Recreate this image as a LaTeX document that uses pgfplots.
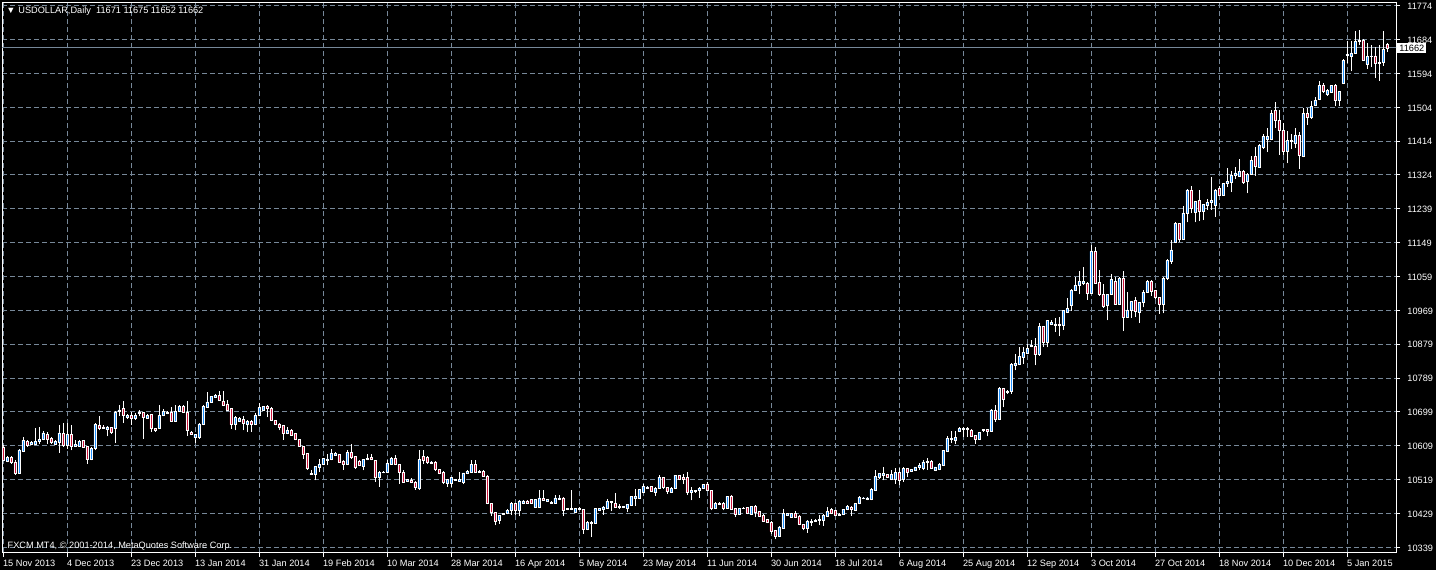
\documentclass[border=0pt]{standalone}
\usepackage{fontspec}
\setmainfont{Liberation Sans}
\usepackage{pgfplots}
\usepackage{pgfplotstable}
\pgfplotsset{compat=1.18}

\definecolor{gridc}{RGB}{119,136,153}
\definecolor{bull}{RGB}{30,144,255}
\definecolor{bear}{RGB}{205,20,60}

% USDOLLAR daily bars: index, open, high, low, close
\pgfplotstableread{
i o h l c
0 10605 10611 10567 10569
1 10566 10580 10564 10576
2 10576 10580 10560 10563
3 10565 10569 10531 10536
4 10536 10600 10534 10597
5 10594 10631 10591 10622
6 10620 10624 10606 10609
7 10613 10620 10609 10617
8 10612 10655 10609 10620
9 10620 10659 10613 10624
10 10625 10646 10622 10642
11 10638 10644 10613 10625
12 10627 10631 10613 10617
13 10613 10624 10612 10620
14 10618 10662 10590 10642
15 10640 10668 10605 10609
16 10609 10668 10600 10638
17 10638 10662 10596 10607
18 10607 10622 10605 10612
19 10607 10624 10605 10620
20 10622 10624 10603 10605
21 10606 10608 10560 10571
22 10571 10605 10569 10600
23 10600 10668 10596 10665
24 10662 10686 10649 10653
25 10658 10662 10653 10655
26 10651 10661 10633 10658
27 10656 10659 10640 10644
28 10653 10700 10615 10697
29 10700 10715 10688 10703
30 10706 10726 10668 10688
31 10682 10691 10680 10688
32 10688 10697 10664 10680
33 10680 10695 10677 10688
34 10693 10702 10686 10697
35 10696 10698 10627 10682
36 10681 10691 10679 10688
37 10691 10693 10644 10653
38 10653 10656 10644 10649
39 10655 10715 10653 10688
40 10688 10706 10686 10699
41 10693 10699 10691 10697
42 10696 10712 10672 10673
43 10673 10715 10672 10700
44 10700 10715 10698 10712
45 10712 10715 10696 10697
46 10697 10726 10635 10649
47 10644 10647 10636 10638
48 10629 10640 10615 10638
49 10629 10668 10627 10666
50 10664 10715 10662 10712
51 10710 10750 10709 10724
52 10724 10741 10722 10739
53 10737 10744 10735 10741
54 10741 10753 10726 10728
55 10726 10752 10713 10715
56 10719 10728 10702 10703
57 10706 10708 10653 10664
58 10664 10686 10649 10682
59 10673 10684 10672 10680
60 10677 10686 10649 10668
61 10666 10675 10644 10673
62 10673 10675 10644 10664
63 10664 10695 10662 10688
64 10688 10721 10687 10709
65 10703 10714 10702 10712
66 10712 10717 10684 10706
67 10706 10710 10673 10675
68 10675 10677 10662 10664
69 10666 10668 10649 10657
70 10662 10664 10624 10640
71 10640 10657 10638 10650
72 10650 10652 10634 10636
73 10640 10642 10622 10624
74 10624 10626 10605 10606
75 10606 10608 10574 10584
76 10587 10589 10545 10547
77 10531 10543 10530 10534
78 10531 10555 10516 10553
79 10552 10574 10538 10559
80 10559 10576 10557 10574
81 10570 10587 10556 10573
82 10571 10600 10569 10589
83 10583 10591 10581 10587
84 10585 10587 10563 10565
85 10568 10569 10545 10559
86 10559 10598 10557 10590
87 10590 10612 10574 10576
88 10580 10582 10547 10550
89 10568 10569 10554 10556
90 10553 10573 10543 10571
91 10571 10587 10569 10575
92 10578 10585 10569 10571
93 10569 10571 10512 10523
94 10523 10540 10500 10538
95 10537 10540 10535 10538
96 10537 10569 10535 10562
97 10560 10578 10559 10574
98 10574 10584 10557 10559
99 10559 10560 10508 10537
100 10537 10543 10510 10512
101 10515 10520 10513 10518
102 10516 10523 10509 10511
103 10512 10514 10492 10497
104 10494 10598 10492 10571
105 10580 10598 10560 10569
106 10578 10580 10561 10563
107 10562 10567 10559 10565
108 10565 10567 10541 10545
109 10545 10546 10532 10534
110 10538 10540 10506 10512
111 10509 10520 10500 10518
112 10509 10524 10499 10523
113 10518 10520 10515 10516
114 10515 10538 10513 10518
115 10512 10537 10506 10536
116 10534 10543 10532 10541
117 10538 10569 10537 10559
118 10558 10569 10537 10538
119 10538 10543 10537 10541
120 10541 10543 10526 10528
121 10528 10530 10453 10455
122 10455 10456 10421 10431
123 10431 10433 10397 10409
124 10410 10425 10402 10424
125 10425 10430 10424 10428
126 10428 10441 10426 10437
127 10437 10459 10424 10455
128 10455 10456 10424 10437
129 10437 10463 10421 10462
130 10455 10463 10453 10462
131 10462 10463 10455 10456
132 10465 10467 10455 10456
133 10446 10467 10444 10465
134 10446 10490 10444 10470
135 10468 10490 10462 10463
136 10462 10467 10460 10465
137 10459 10461 10455 10456
138 10456 10477 10455 10470
139 10465 10477 10463 10470
140 10470 10472 10421 10437
141 10439 10442 10437 10441
142 10439 10492 10437 10441
143 10431 10443 10429 10441
144 10440 10445 10438 10443
145 10440 10441 10375 10387
146 10387 10408 10384 10406
147 10403 10408 10366 10406
148 10403 10443 10401 10441
149 10438 10443 10437 10441
150 10440 10448 10425 10446
151 10441 10468 10440 10461
152 10459 10461 10434 10461
153 10455 10484 10444 10446
154 10448 10455 10440 10445
155 10444 10449 10442 10447
156 10443 10455 10433 10453
157 10450 10475 10448 10473
158 10468 10494 10448 10473
159 10468 10494 10466 10492
160 10485 10508 10484 10501
161 10496 10501 10494 10499
162 10500 10502 10486 10487
163 10484 10498 10475 10496
164 10494 10530 10493 10525
165 10524 10526 10493 10499
166 10498 10500 10481 10487
167 10485 10498 10484 10496
168 10496 10531 10494 10530
169 10530 10531 10517 10519
170 10524 10534 10508 10519
171 10524 10538 10478 10484
172 10485 10499 10463 10489
173 10487 10492 10484 10490
174 10489 10498 10470 10496
175 10494 10508 10493 10505
176 10507 10512 10488 10490
177 10490 10492 10437 10443
178 10443 10458 10441 10456
179 10456 10458 10452 10453
180 10456 10458 10437 10443
181 10443 10476 10441 10474
182 10475 10477 10438 10440
183 10441 10443 10419 10425
184 10425 10443 10424 10441
185 10441 10445 10440 10443
186 10445 10447 10426 10428
187 10425 10449 10424 10447
188 10448 10450 10419 10431
189 10433 10434 10420 10422
190 10424 10426 10406 10408
191 10412 10414 10403 10404
192 10406 10408 10373 10381
193 10384 10386 10360 10368
194 10368 10395 10366 10393
195 10390 10440 10388 10428
196 10424 10430 10422 10428
197 10419 10430 10418 10428
198 10429 10434 10418 10419
199 10422 10424 10397 10399
200 10400 10402 10384 10390
201 10390 10411 10378 10409
202 10404 10415 10396 10408
203 10409 10413 10407 10411
204 10410 10424 10397 10412
205 10411 10426 10396 10424
206 10422 10446 10420 10433
207 10439 10443 10426 10428
208 10437 10439 10422 10424
209 10424 10429 10422 10427
210 10425 10441 10424 10440
211 10439 10452 10437 10448
212 10446 10448 10422 10439
213 10437 10456 10435 10455
214 10455 10475 10453 10472
215 10468 10471 10466 10470
216 10465 10472 10463 10470
217 10465 10496 10463 10492
218 10490 10543 10488 10527
219 10523 10536 10520 10534
220 10529 10553 10516 10534
221 10531 10533 10523 10525
222 10518 10543 10516 10531
223 10518 10550 10508 10537
224 10537 10550 10503 10516
225 10518 10552 10512 10547
226 10547 10549 10525 10538
227 10541 10547 10539 10545
228 10543 10553 10541 10552
229 10552 10562 10545 10555
230 10549 10571 10543 10565
231 10564 10576 10545 10567
232 10567 10569 10546 10549
233 10543 10553 10541 10552
234 10545 10562 10543 10558
235 10556 10598 10554 10596
236 10594 10633 10592 10627
237 10624 10647 10615 10628
238 10622 10647 10612 10629
239 10647 10658 10645 10653
240 10651 10658 10631 10654
241 10652 10658 10631 10655
242 10650 10652 10631 10633
243 10635 10636 10614 10625
244 10625 10644 10623 10643
245 10649 10653 10644 10651
246 10651 10652 10633 10647
247 10647 10705 10645 10703
248 10702 10715 10671 10678
249 10678 10765 10676 10759
250 10759 10761 10710 10730
251 10750 10756 10746 10753
252 10753 10827 10746 10823
253 10822 10852 10808 10826
254 10823 10869 10822 10845
255 10843 10869 10825 10855
256 10852 10878 10850 10865
257 10871 10887 10869 10875
258 10871 10894 10821 10849
259 10849 10933 10847 10924
260 10924 10926 10871 10883
261 10883 10942 10869 10940
262 10931 10940 10927 10935
263 10928 10947 10909 10931
264 10931 10949 10898 10928
265 10928 10968 10915 10966
266 10962 11000 10960 10971
267 10980 11024 10966 11019
268 11019 11055 11018 11033
269 11033 11072 11009 11043
270 11039 11081 11033 11043
271 11039 11041 10995 11011
272 11011 11141 11009 11123
273 11123 11134 11037 11039
274 11040 11074 11006 11008
275 11009 11037 10974 10978
276 10981 11011 10940 11009
277 11009 11064 11007 11048
278 11044 11055 10981 10982
279 10984 11056 10982 11052
280 11052 11072 10912 10949
281 10949 11015 10947 10968
282 10966 10992 10947 10990
283 10993 11002 10949 10964
284 10962 10990 10933 10988
285 10988 11021 10975 11015
286 11015 11048 11013 11043
287 11043 11048 11006 11018
288 11019 11021 10998 11000
289 11000 11002 10958 10984
290 10984 11056 10959 11052
291 11052 11104 11048 11098
292 11096 11152 11090 11127
293 11147 11200 11145 11198
294 11198 11199 11147 11156
295 11156 11244 11154 11225
296 11225 11288 11200 11286
297 11286 11297 11224 11238
298 11227 11257 11200 11255
299 11257 11286 11203 11229
300 11229 11249 11206 11247
301 11244 11262 11233 11253
302 11253 11319 11233 11257
303 11246 11288 11214 11286
304 11289 11297 11269 11271
305 11272 11303 11271 11302
306 11302 11344 11293 11308
307 11306 11337 11280 11324
308 11325 11346 11315 11331
309 11323 11368 11321 11336
310 11336 11338 11302 11306
311 11309 11330 11277 11328
312 11326 11377 11325 11364
313 11374 11399 11324 11349
314 11346 11408 11344 11403
315 11400 11434 11394 11427
316 11421 11450 11386 11427
317 11419 11497 11417 11489
318 11497 11518 11450 11469
319 11471 11497 11379 11443
320 11443 11462 11379 11388
321 11388 11443 11356 11416
322 11414 11434 11394 11416
323 11408 11450 11397 11430
324 11430 11439 11341 11377
325 11374 11503 11372 11489
326 11489 11503 11459 11477
327 11477 11522 11475 11507
328 11509 11531 11507 11524
329 11525 11574 11523 11562
330 11564 11568 11544 11546
331 11538 11553 11536 11549
332 11544 11565 11543 11562
333 11562 11566 11507 11522
334 11522 11548 11507 11546
335 11568 11633 11566 11628
336 11643 11681 11621 11646
337 11640 11681 11600 11649
338 11649 11708 11647 11679
339 11680 11709 11671 11683
340 11683 11685 11627 11630
341 11619 11674 11606 11639
342 11639 11671 11611 11641
343 11641 11664 11582 11621
344 11621 11671 11575 11624
345 11624 11708 11615 11659
346 11671 11675 11652 11662
}\candles

\begin{document}
\begin{tikzpicture}[font=\fontsize{4.6bp}{5.5bp}\selectfont]
\fill[black] (0,0) rectangle (718bp,285bp);
\useasboundingbox (0,0) rectangle (718bp,285bp);
\pgfplotsset{mt4/.style={
    at={(1bp,8.75bp)}, anchor=south west,
    scale only axis, width=697bp, height=274.75bp,
    xmin=-0.325, xmax=348.175, ymin=10325.2, ymax=11781.2}}

% frame, grid, ticks, wicks
\begin{axis}[mt4,
    axis line style={white, line width=0.5bp},
    tick style={white, line width=0.5bp},
    major tick length=2bp,
    tick align=outside,
    xtick pos=left, ytick pos=right, yticklabel pos=right,
    grid=major,
    major grid style={gridc, line width=0.5bp, dash pattern=on 2.5bp off 1.5bp},
    xtick={0,16,...,336},
    xticklabels={15 Nov 2013,4 Dec 2013,23 Dec 2013,13 Jan 2014,31 Jan 2014,19 Feb 2014,10 Mar 2014,28 Mar 2014,16 Apr 2014,5 May 2014,23 May 2014,11 Jun 2014,30 Jun 2014,18 Jul 2014,6 Aug 2014,25 Aug 2014,12 Sep 2014,3 Oct 2014,27 Oct 2014,18 Nov 2014,10 Dec 2014,5 Jan 2015},
    ytick={10339,10428.69,10518.38,10608.06,10697.75,10787.44,10877.13,10966.81,11056.5,11146.19,11235.88,11325.56,11415.25,11504.94,11594.63,11684.31,11774},
    yticklabels={10339,10429,10519,10609,10699,10789,10879,10969,11059,11149,11239,11324,11414,11504,11594,11684,11774},
    xticklabel style={white, anchor=north west, inner sep=0pt, xshift=-0.3bp, yshift=-1.6bp},
    yticklabel style={white, anchor=west, inner sep=0pt, xshift=3.5bp, yshift=-0.3bp},
]
\addplot[gridc, line width=0.5bp, forget plot] coordinates {(-1,11662) (350,11662)};
\addplot[draw=none, mark=none,
    error bars/.cd, y dir=plus, y explicit, error mark=none,
    error bar style={draw=white, solid, line width=0.5bp}]
    table[x=i, y=l, y error expr=\thisrow{h}-\thisrow{l}] {\candles};
\coordinate (pl) at (axis cs:348.175,11662);
\end{axis}

% candle bodies
\begin{axis}[mt4, hide axis, ybar stacked, bar width=1.4bp]
\addplot[draw=none, fill=none] table[x=i, y expr={min(\thisrow{o},\thisrow{c})}] {\candles};
\addplot[fill=bull, draw=white, line width=0.35bp] table[x=i, y expr={\thisrow{c}>\thisrow{o} ? \thisrow{c}-\thisrow{o} : 0}] {\candles};
\addplot[fill=bear, draw=white, line width=0.35bp] table[x=i, y expr={\thisrow{c}<\thisrow{o} ? \thisrow{o}-\thisrow{c} : 0}] {\candles};
\end{axis}

\node[fill=white, text=black, anchor=west, inner xsep=1bp, inner ysep=0.8bp, xshift=0.5bp] at (pl) {11662};
\node[white, anchor=base west, inner sep=0pt] at (3bp,278bp) {▼};
\node[white, anchor=base west, inner sep=0pt] at (9bp,278bp) {USDOLLAR,Daily\ \ 11671 11675 11652 11662};
\node[white, anchor=base west, inner sep=0pt] at (3.65bp,10.85bp) {FXCM MT4, © 2001-2014, MetaQuotes Software Corp.};
\end{tikzpicture}
\end{document}
